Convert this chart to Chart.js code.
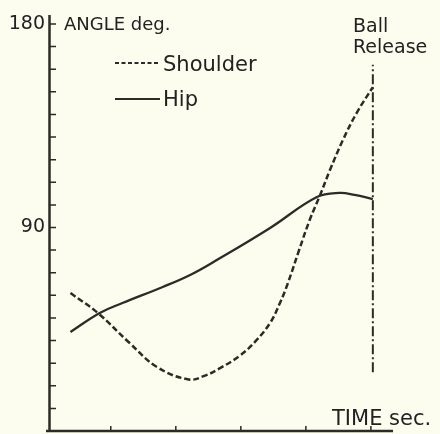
<!DOCTYPE html>
<html>
<head>
<meta charset="utf-8">
<script src="https://cdn.jsdelivr.net/npm/chart.js@4.4.1/dist/chart.umd.min.js"></script>
<style>
  html, body { margin: 0; padding: 0; background: #fcfcef; }
  #wrap { width: 440px; height: 434px; position: relative; }
</style>
</head>
<body>
<div id="wrap"><canvas id="c"></canvas></div>
<script>
// ---- data (time in tick units, angle in degrees) ----
const shoulderTime  = [0.38, 0.80, 1.29, 1.71, 2.20, 2.45, 2.68, 2.98, 3.22, 3.45, 3.60, 3.72, 3.89, 4.06, 4.22, 4.37, 4.57, 4.78, 5.03];
const shoulderAngle = [61.0, 52.2, 38.9, 28.3, 22.8, 24.5, 27.8, 33.2, 39.5, 47.8, 56.5, 65.1, 79.5, 93.4, 104.4, 115.4, 128.7, 140.6, 152.1];
const hipTime  = [0.38, 0.83, 1.18, 1.80, 2.22, 2.63, 3.45, 4.17, 4.52, 4.75, 5.03];
const hipAngle = [43.8, 52.2, 56.6, 63.7, 69.0, 75.6, 89.8, 103.5, 105.3, 104.4, 102.6];
const releaseTime  = [5.03, 5.03];
const releaseAngle = [26, 162];
const yTickLabels = [90, 180];
const seriesNames = ['Shoulder', 'Hip'];

const ink = '#2b2b27';
const FONT = '"DejaVu Sans", sans-serif';

function pts(xs, ys) { return xs.map((x, i) => ({ x: x, y: ys[i] })); }

const decor = {
  id: 'decor',
  afterDraw(chart) {
    const ctx = chart.ctx;
    const xs = chart.scales.x, ys = chart.scales.y;
    const x0 = xs.getPixelForValue(xs.min);
    const x1 = xs.getPixelForValue(xs.max);
    const yb = ys.getPixelForValue(0);
    const yt = ys.getPixelForValue(180);
    ctx.save();
    ctx.strokeStyle = ink;
    ctx.lineCap = 'butt';
    // axes
    ctx.lineWidth = 2.5;
    ctx.beginPath();
    ctx.moveTo(x0 + 0.5, yt - 9);
    ctx.lineTo(x0 + 0.5, yb + 1);
    ctx.moveTo(x0 - 3, yb);
    ctx.lineTo(x1, yb);
    ctx.stroke();
    // y ticks (inward)
    ctx.lineWidth = 1.5;
    ctx.beginPath();
    for (let v = 10; v <= 180; v += 10) {
      const y = ys.getPixelForValue(v);
      ctx.moveTo(x0, y);
      ctx.lineTo(x0 + 7, y);
    }
    // x ticks (inward)
    for (let t = 1; t <= 5; t++) {
      const x = xs.getPixelForValue(t);
      ctx.moveTo(x, yb);
      ctx.lineTo(x, yb - 5);
    }
    ctx.stroke();
    // legend
    const lx0 = 115, lx1 = 160;
    ctx.lineWidth = 2;
    ctx.setLineDash([4, 2.5]);
    ctx.beginPath(); ctx.moveTo(lx0, 63); ctx.lineTo(lx1, 63); ctx.stroke();
    ctx.setLineDash([]);
    ctx.beginPath(); ctx.moveTo(lx0, 99); ctx.lineTo(lx1, 99); ctx.stroke();
    ctx.fillStyle = '#222';
    ctx.textBaseline = 'alphabetic';
    ctx.textAlign = 'left';
    ctx.font = '21px ' + FONT;
    ctx.fillText(chart.data.datasets[0].label, 163, 71);
    ctx.fillText(chart.data.datasets[1].label, 163, 106);
    // titles
    ctx.font = '18px ' + FONT;
    ctx.fillText('ANGLE deg.', 64, 30);
    ctx.font = '19px ' + FONT;
    ctx.fillText('Ball', 353, 32);
    ctx.fillText('Release', 353, 53);
    ctx.font = '21px ' + FONT;
    ctx.fillText('TIME sec.', 332, 425);
    ctx.restore();
  }
};

new Chart(document.getElementById('c'), {
  type: 'line',
  data: {
    datasets: [
      { label: seriesNames[0], data: pts(shoulderTime, shoulderAngle), borderColor: ink, borderWidth: 2.5,
        borderDash: [6, 3], pointRadius: 0, tension: 0.4, fill: false },
      { label: seriesNames[1], data: pts(hipTime, hipAngle), borderColor: ink, borderWidth: 2.3,
        pointRadius: 0, tension: 0.4, fill: false },
      { label: 'Ball Release', data: pts(releaseTime, releaseAngle), borderColor: ink, borderWidth: 2,
        borderDash: [10, 3, 2, 3], pointRadius: 0, fill: false }
    ]
  },
  options: {
    animation: false,
    responsive: true,
    maintainAspectRatio: false,
    layout: { padding: { top: 24, left: 0, right: 47, bottom: 3 } },
    plugins: { legend: { display: false }, tooltip: { enabled: false } },
    scales: {
      x: { type: 'linear', min: 0.05, max: 5.34, display: false },
      y: {
        min: 0, max: 180,
        ticks: {
          stepSize: 10, padding: 4, color: '#222', autoSkip: false,
          font: { family: FONT, size: 19 },
          callback: v => (yTickLabels.includes(v) ? String(v) : '')
        },
        grid: { display: false, drawTicks: false },
        border: { display: false },
        afterFit: s => { s.width = 49; s.paddingTop = 0; s.paddingBottom = 0; }
      }
    }
  },
  plugins: [decor]
});
</script>
</body>
</html>
